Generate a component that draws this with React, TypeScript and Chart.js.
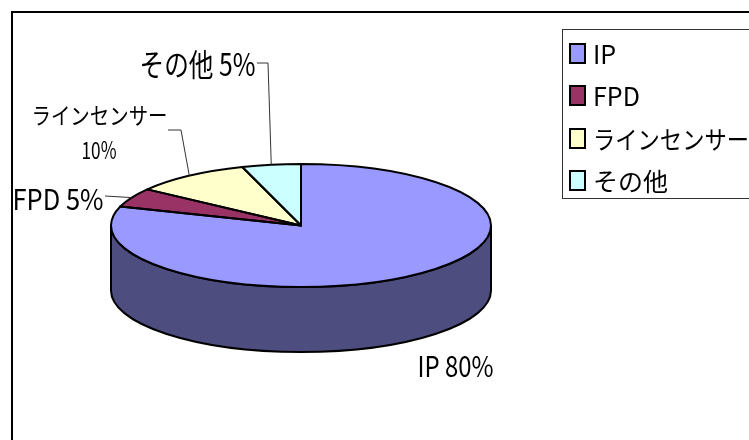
import { useEffect, useRef } from "react";
import { Chart, registerables } from "chart.js";

Chart.register(...registerables);

const categories = ["IP", "FPD", "ラインセンサー", "その他"];
const shares = [80, 5, 10, 5];
const faceColors = ["#9999FF", "#993366", "#FFFFCC", "#CCFFFF"];
const wallColors = ["#4D4D80", "#4D1A33", "#808066", "#668080"];

const FONT = '"Noto Sans CJK JP", sans-serif';
const TILT = 61.5 / 190;
const DEPTH = 65;

// Label placement for each slice: text lines with centre x, centre y, size, fitted width.
const sliceLabels = [
  { lines: [{ text: "IP 80%", x: 455.5, y: 366, size: 29, width: 76 }], leader: null },
  { lines: [{ text: "FPD 5%", x: 58, y: 199, size: 29, width: 91 }], leader: [[105, 196]] },
  {
    lines: [
      { text: "ラインセンサー", x: 99.5, y: 115, size: 23, width: 136 },
      { text: "10%", x: 99, y: 150, size: 24, width: 35 },
    ],
    leader: [[168, 130], [181, 130]],
  },
  { lines: [{ text: "その他 5%", x: 197.5, y: 64, size: 31, width: 116 }], leader: [[257, 63], [268, 63]] },
];

const legendBox = { left: 562, top: 29, right: 760, bottom: 198 };
const legendRows = [53, 95, 138, 180];
const legendTextSize = 25;
const legendTextWidth = 156;

const tiltedPie = {
  id: "tiltedPie",
  beforeDraw(chart: any) {
    const { ctx, width, height } = chart;
    ctx.save();
    ctx.fillStyle = "#FFFFFF";
    ctx.fillRect(0, 0, width, height);
    ctx.strokeStyle = "#000000";
    ctx.lineWidth = 2;
    ctx.strokeRect(12, 12, width + 20, height + 20);
    ctx.restore();
  },
  beforeDatasetsDraw(chart: any) {
    const { ctx } = chart;
    const arcs = chart.getDatasetMeta(0).data;
    ctx.save();
    arcs.forEach((arc: any, i: number) => {
      const { x, y, outerRadius: r, startAngle, endAngle } = arc;
      for (const turn of [-2 * Math.PI, 0, 2 * Math.PI]) {
        const a0 = Math.max(startAngle + turn, 0);
        const a1 = Math.min(endAngle + turn, Math.PI);
        if (a1 <= a0) continue;
        ctx.beginPath();
        ctx.ellipse(x, y, r, r * TILT, 0, a0, a1);
        ctx.ellipse(x, y + DEPTH, r, r * TILT, 0, a1, a0, true);
        ctx.closePath();
        ctx.fillStyle = wallColors[i];
        ctx.fill();
        ctx.strokeStyle = "#000000";
        ctx.lineWidth = 2;
        ctx.stroke();
      }
    });
    ctx.restore();
    // The slices themselves are squashed vertically into the tilted top face
    const { y } = arcs[0];
    ctx.save();
    ctx.translate(0, y);
    ctx.scale(1, TILT);
    ctx.translate(0, -y);
  },
  afterDatasetsDraw(chart: any) {
    const { ctx } = chart;
    ctx.restore();
    const arcs = chart.getDatasetMeta(0).data;
    ctx.save();
    ctx.strokeStyle = "#000000";
    ctx.lineWidth = 2;
    ctx.lineJoin = "round";
    arcs.forEach((arc: any) => {
      const { x, y, outerRadius: r, startAngle, endAngle } = arc;
      ctx.beginPath();
      ctx.moveTo(x, y);
      ctx.ellipse(x, y, r, r * TILT, 0, startAngle, endAngle);
      ctx.closePath();
      ctx.stroke();
    });
    ctx.restore();
  },
  afterDraw(chart: any) {
    const { ctx } = chart;
    const arcs = chart.getDatasetMeta(0).data;
    ctx.save();
    ctx.textAlign = "center";
    ctx.textBaseline = "middle";
    sliceLabels.forEach((label, i) => {
      const arc = arcs[i];
      if (label.leader) {
        const mid = (arc.startAngle + arc.endAngle) / 2;
        ctx.beginPath();
        label.leader.forEach(([px, py], k) => (k ? ctx.lineTo(px, py) : ctx.moveTo(px, py)));
        ctx.lineTo(arc.x + arc.outerRadius * Math.cos(mid), arc.y + arc.outerRadius * TILT * Math.sin(mid));
        ctx.strokeStyle = "#333333";
        ctx.lineWidth = 1;
        ctx.stroke();
      }
      ctx.fillStyle = "#000000";
      label.lines.forEach((line) => {
        ctx.font = `${line.size}px ${FONT}`;
        ctx.fillText(line.text, line.x, line.y, line.width);
      });
    });

    // Legend panel, open on the right where it runs past the canvas edge
    ctx.fillStyle = "#FFFFFF";
    ctx.fillRect(legendBox.left, legendBox.top, legendBox.right - legendBox.left, legendBox.bottom - legendBox.top);
    ctx.strokeStyle = "#333333";
    ctx.lineWidth = 1;
    ctx.strokeRect(legendBox.left + 0.5, legendBox.top + 0.5, legendBox.right - legendBox.left, legendBox.bottom - legendBox.top);
    ctx.textAlign = "left";
    chart.data.labels.forEach((name: string, i: number) => {
      const rowY = legendRows[i];
      ctx.fillStyle = faceColors[i];
      ctx.fillRect(570, rowY - 9, 15, 19);
      ctx.strokeStyle = "#000000";
      ctx.lineWidth = 2;
      ctx.strokeRect(570, rowY - 9, 15, 19);
      ctx.fillStyle = "#000000";
      ctx.font = `${legendTextSize}px ${FONT}`;
      ctx.fillText(name, 593, rowY + 1, legendTextWidth);
    });
    ctx.restore();
  },
};

export default function App() {
  const ref = useRef<HTMLCanvasElement>(null);
  useEffect(() => {
    const chart = new Chart(ref.current!, {
      type: "pie",
      data: {
        labels: categories,
        datasets: [
          { data: shares, backgroundColor: faceColors, borderWidth: 0, clip: false } as any,
        ],
      },
      options: {
        animation: false,
        responsive: false,
        events: [],
        layout: { padding: { left: 111, right: 258, top: 35.5, bottom: 24.5 } },
        plugins: { legend: { display: false }, tooltip: { enabled: false }, title: { display: false } },
      },
      plugins: [tiltedPie],
    });
    return () => chart.destroy();
  }, []);
  return (
    <canvas
      ref={ref}
      width={749}
      height={440}
      style={{ position: "fixed", left: 0, top: 0, width: 749, height: 440, display: "block" }}
    />
  );
}
